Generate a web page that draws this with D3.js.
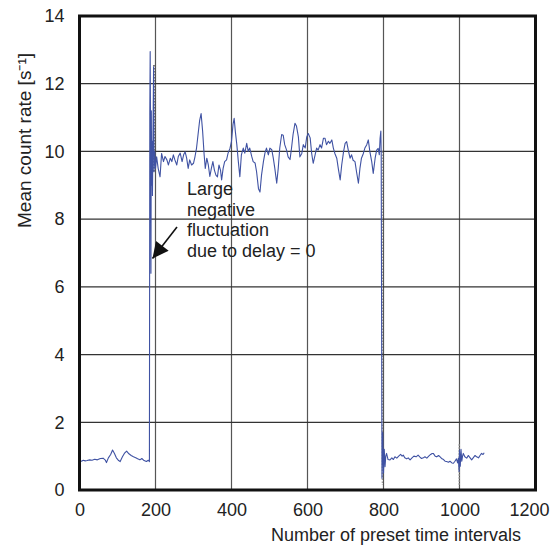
<!DOCTYPE html>
<html><head><meta charset="utf-8">
<script src="https://cdn.jsdelivr.net/npm/d3@7"></script>
<style>body{margin:0;background:#fff}svg{display:block}text{font-family:"Liberation Sans",Arial,sans-serif;fill:#222}</style>
</head><body>
<script>
const xTicks = [0,200,400,600,800,1000,1200];
const yTicks = [0,2,4,6,8,10,12,14];
const xTitle = "Number of preset time intervals";
const yTitle = "Mean count rate [s\u207B\u00B9]";
const annotationLines = ["Large","negative","fluctuation","due to delay = 0"];

const seriesX = [0,5,10,15,20,27,33,40,47,55,62,68,71,76,82,87,92,97,102,107,113,118,124,130,136,142,148,153,159,164,170,176,181,184,
185,186,187,188,189,190,191,192,193,195,196,198,200,
203,207,212,216,221,225,230,234,239,243,247,251,256,260,265,270,274,278,282,286,290,295,300,304,308,312,316,320,324,328,331,335,339,343,347,351,355,359,363,367,371,374,378,382,387,391,396,400,404,407,410,414,418,422,426,431,435,440,444,448,453,457,462,466,471,475,479,484,488,492,497,501,506,510,514,519,523,527,532,536,540,545,549,554,558,562,567,571,576,580,585,589,594,598,602,607,611,615,620,624,628,633,637,642,646,650,655,659,664,668,672,677,681,686,690,695,699,703,708,712,716,720,725,729,734,738,742,747,751,756,760,764,769,773,778,782,786,789,791,793,794,
796,798,800,802,804,806,808,812,817,822,826,830,835,840,845,849,852,856,861,865,870,875,880,886,891,896,900,905,909,914,919,924,928,931,936,940,945,949,954,958,962,966,971,975,980,984,988,992,995,997,999,1000,1002,1004,1006,1008,1010,1014,1019,1023,1028,1032,1036,1041,1045,1050,1054,1058,1062,1065];
const seriesY = [0.86,0.85,0.88,0.86,0.87,0.89,0.88,0.91,0.89,0.93,0.94,0.88,0.81,0.95,1.05,1.18,1.08,0.95,0.88,0.84,0.98,1.08,1.15,1.07,1.02,0.98,0.95,0.92,0.89,0.93,0.87,0.84,0.88,0.84,
11.1,12.95,10.6,6.4,11.2,9.0,10.3,8.7,10.0,12.5,9.4,10.0,9.5,
9.84,9.5,9.25,9.94,9.7,9.85,9.75,9.6,9.8,9.7,9.9,9.75,9.6,9.85,9.95,9.7,9.9,9.99,9.8,9.5,9.75,9.6,9.65,9.85,10.1,10.5,10.9,11.12,10.6,9.9,9.5,9.8,9.6,9.26,9.5,9.7,9.45,9.3,9.25,9.6,9.45,9.16,9.5,9.7,9.75,9.95,10.09,10.3,10.8,10.98,10.6,10.2,9.7,9.25,9.9,10.1,9.95,10.24,10.0,10.1,9.86,9.7,9.66,9.4,8.9,8.8,9.3,9.7,9.95,10.1,9.9,10.1,10.05,9.8,9.5,9.06,9.5,10.1,10.5,10.48,10.2,10.04,9.84,9.76,10.1,10.5,10.83,10.75,10.43,9.84,9.94,10.2,10.1,10.43,10.53,10.4,9.94,9.65,9.9,10.1,10.04,10.2,10.1,10.39,10.39,10.2,10.3,10.24,10.34,10.1,9.94,9.8,9.5,9.16,9.6,10.0,10.24,10.29,10.0,9.8,9.9,9.74,9.7,9.4,9.06,9.5,9.8,9.94,10.1,10.2,10.34,10.0,9.7,9.35,9.8,10.04,10.09,9.9,10.39,10.6,9.9,
0.35,1.7,0.5,1.2,0.69,1.0,1.08,0.9,0.89,0.95,0.9,0.98,0.94,1.0,1.05,1.0,1.03,0.95,0.92,0.95,0.89,0.95,1.0,0.98,1.03,0.97,0.93,0.95,0.98,0.94,1.0,1.05,1.08,1.08,1.0,0.98,1.02,0.98,0.92,0.9,0.85,0.84,0.82,0.85,0.8,0.79,0.85,0.92,0.8,0.94,0.55,1.18,0.7,1.2,0.85,1.0,1.08,0.98,0.94,1.02,0.95,0.89,0.95,1.02,0.98,0.95,1.02,1.08,1.05,1.1];

const markerX = [196, 797, 999];
const markerTop = [12.55, 10.0, 1.35];
const markerBottom = [9.4, 0.15, 0.1];
const markerColor = ["#333","#999","#999"];

const W = 556, H = 551;
const svg = d3.select("body").append("svg").attr("width", W).attr("height", H);
const x = d3.scaleLinear().domain([0,1200]).range([79.5,535.5]);
const y = d3.scaleLinear().domain([0,14]).range([490,16]);

// grid
svg.append("g").selectAll("line").data(xTicks.slice(1,-1)).join("line")
  .attr("x1", d=>x(d)).attr("x2", d=>x(d)).attr("y1", y(14)).attr("y2", y(0))
  .attr("stroke", "#555").attr("stroke-width", 1.2);
svg.append("g").selectAll("line").data(yTicks.slice(1,-1)).join("line")
  .attr("y1", d=>y(d)).attr("y2", d=>y(d)).attr("x1", x(0)).attr("x2", x(1200))
  .attr("stroke", "#333").attr("stroke-width", 1.2);

// markers
svg.append("g").selectAll("line").data(markerX).join("line")
  .attr("x1", d=>x(d)).attr("x2", d=>x(d))
  .attr("y1", (d,i)=>y(markerTop[i])).attr("y2", (d,i)=>y(markerBottom[i]))
  .attr("stroke", (d,i)=>markerColor[i]).attr("stroke-width", 1.3).attr("stroke-dasharray","1.5,1.5");

// series
const line = d3.line().x(d=>x(d[0])).y(d=>y(d[1]));
svg.append("path").datum(seriesX.map((v,i)=>[v,seriesY[i]]))
  .attr("d", line).attr("fill","none").attr("stroke","#3f52a3").attr("stroke-width",1.1).attr("stroke-linejoin","round");

// frame
svg.append("rect").attr("x", x(0)).attr("y", y(14)).attr("width", x(1200)-x(0)).attr("height", y(0)-y(14))
  .attr("fill","none").attr("stroke","#111").attr("stroke-width",3);

const F = "'Liberation Sans',Arial,sans-serif";
const xAxis = svg.append("g").attr("transform", `translate(0,${y(0)})`)
  .call(d3.axisBottom(x).tickValues(xTicks).tickSize(0).tickPadding(13).tickFormat(d3.format("d")));
xAxis.select(".domain").remove();
xAxis.selectAll("text").style("font-size","18px").style("font-family",F).attr("fill","#222");
// last label pulled inside the picture edge, as in the original
xAxis.selectAll("text").filter(d=>d===1200).attr("text-anchor","end").attr("x", 13.5);
const yAxis = svg.append("g").attr("transform", `translate(${x(0)},0)`)
  .call(d3.axisLeft(y).tickValues(yTicks).tickSize(0).tickPadding(15).tickFormat(d3.format("d")));
yAxis.select(".domain").remove();
yAxis.selectAll("text").style("font-size","18px").style("font-family",F).attr("fill","#222");

svg.append("text").attr("x", 521).attr("y", 541).attr("text-anchor","end")
  .style("font-size","18px").text(xTitle);
svg.append("text").attr("transform","translate(31,53) rotate(-90)").attr("text-anchor","end")
  .style("font-size","19px").text(yTitle);

// annotation
svg.append("g").selectAll("text").data(annotationLines).join("text")
  .attr("x", 187).attr("y", (d,i)=>195 + i*20.5).style("font-size","18px").text(d=>d);
svg.append("defs").append("marker").attr("id","ah").attr("viewBox","0 0 10 10")
  .attr("refX",10).attr("refY",5).attr("markerWidth",22).attr("markerHeight",16)
  .attr("markerUnits","userSpaceOnUse").attr("orient","auto")
  .append("path").attr("d","M0,0L10,5L0,10Z").attr("fill","#111");
svg.append("line").attr("x1",177).attr("y1",227).attr("x2",152.5).attr("y2",258.5)
  .attr("stroke","#111").attr("stroke-width",1.6).attr("marker-end","url(#ah)");
</script>
</body></html>
